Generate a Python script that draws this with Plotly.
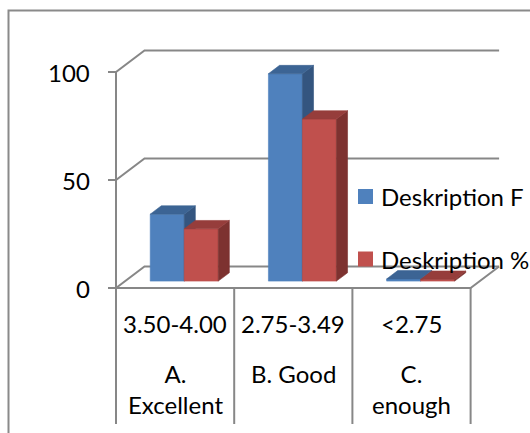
import plotly.graph_objects as go

# ---- data -------------------------------------------------------------
range_labels = ["3.50-4.00", "2.75-3.49", "<2.75"]
grade_labels = ["A.<br>Excellent", "B. Good", "C.<br>enough"]
series_names = ["Deskription F", "Deskription %"]
values_f = [31, 96, 1]
values_pct = [24.2, 75.0, 0.8]
y_ticks = [0, 50, 100]

# ---- geometry (pixels of the 530 x 433 page) ---------------------------
W, H = 530, 433
X0_PX, CAT_PX = 116, 118.2          # left end of category axis, width of one category
Y0_PX, UNIT_PX = 288, 2.16          # pixel row of value 0, pixels per value unit
WALL_DX_PX, WALL_DY_PX = 28.5, 21.5  # oblique depth of the back wall

x_range = [-X0_PX / CAT_PX, (W - X0_PX) / CAT_PX]
y_range = [-(H - Y0_PX) / UNIT_PX, Y0_PX / UNIT_PX]
WDX = WALL_DX_PX / CAT_PX
WDY = WALL_DY_PX / UNIT_PX


def px_x(p):
    return (p - X0_PX) / CAT_PX


def px_y(p):
    return (Y0_PX - p) / UNIT_PX


N = len(range_labels)
BAR_W = 34 / CAT_PX        # width of one column
Z_FRONT, Z_BACK = 0.32, 0.71  # depth of column front / back faces (0 = front, 1 = wall)

GRID = "#878787"
FONT = "Lato"
FS = 24

colors = {
    "Deskription F": dict(front="#4F81BD", top="#3C6494", side="#34557F"),
    "Deskription %": dict(front="#C0504D", top="#963D3B", side="#7D3230"),
}

fig = go.Figure()


def line(xs, ys, width=2, color=GRID):
    fig.add_trace(go.Scatter(x=xs, y=ys, mode="lines",
                             line=dict(color=color, width=width),
                             hoverinfo="skip", showlegend=False))


def face(xs, ys, color):
    fig.add_trace(go.Scatter(x=xs + [xs[0]], y=ys + [ys[0]], mode="lines",
                             fill="toself", fillcolor=color,
                             line=dict(color=color, width=0.6),
                             hoverinfo="skip", showlegend=False))


# walls: gridlines running from the front axis back to the wall
tick_len = 8 / CAT_PX
for v in y_ticks:
    line([-tick_len, 0, WDX, N + WDX], [v, v, v + WDY, v + WDY])
# value axis and category dividers
bottom_v = px_y(424)
line([0, 0], [y_ticks[-1], bottom_v])
for i in range(1, N + 1):
    line([i, i], [0, bottom_v])
# floor front edge and right edge
line([0, N, N + WDX], [0, 0, WDY])

# ---- 3-D columns ---------------------------------------------------------
ox0, oy0 = Z_FRONT * WDX, Z_FRONT * WDY
ox1, oy1 = Z_BACK * WDX, Z_BACK * WDY
for i in range(N):
    for k, (name, vals) in enumerate(zip(series_names, [values_f, values_pct])):
        v = vals[i]
        c = colors[name]
        xl = i + 0.5 - BAR_W + k * BAR_W
        xr = xl + BAR_W
        # front
        face([xl + ox0, xr + ox0, xr + ox0, xl + ox0],
             [oy0, oy0, v + oy0, v + oy0], c["front"])
        # side
        face([xr + ox0, xr + ox1, xr + ox1, xr + ox0],
             [oy0, oy1, v + oy1, v + oy0], c["side"])
        # top
        face([xl + ox0, xr + ox0, xr + ox1, xl + ox1],
             [v + oy0, v + oy0, v + oy1, v + oy1], c["top"])

annotations = []
# value tick labels
for v in y_ticks:
    annotations.append(dict(x=px_x(92), y=v, xref="x", yref="y", text=str(v),
                            xanchor="right", yanchor="middle", showarrow=False,
                            font=dict(family=FONT, size=FS, color="#000000")))
# category labels (two rows)
for i in range(N):
    annotations.append(dict(x=i + 0.5, y=px_y(323), xref="x", yref="y",
                            text=range_labels[i], xanchor="center", yanchor="middle",
                            showarrow=False,
                            font=dict(family=FONT, size=FS, color="#000000")))
    annotations.append(dict(x=i + 0.5, y=px_y(357), xref="x", yref="y",
                            text=grade_labels[i], xanchor="center", yanchor="top",
                            showarrow=False,
                            font=dict(family=FONT, size=FS, color="#000000")))

# legend
shapes = []
for name, cy in zip(series_names, [196.5, 259]):
    shapes.append(dict(type="rect", xref="x", yref="y",
                       x0=px_x(358), x1=px_x(373), y0=px_y(cy - 7.5), y1=px_y(cy + 7.5),
                       fillcolor=colors[name]["front"], line=dict(width=0)))
    annotations.append(dict(x=px_x(379), y=px_y(cy), xref="x", yref="y", text=name,
                            xanchor="left", yanchor="middle", showarrow=False,
                            font=dict(family=FONT, size=FS, color="#000000")))

# chart frame
shapes.append(dict(type="rect", xref="x", yref="y",
                   x0=px_x(8.5), x1=px_x(W + 20), y0=px_y(10.5), y1=px_y(H + 20),
                   line=dict(color="#8A8A8A", width=2), fillcolor="rgba(0,0,0,0)"))

fig.update_layout(
    width=W, height=H,
    margin=dict(l=0, r=0, t=0, b=0),
    paper_bgcolor="white", plot_bgcolor="white",
    xaxis=dict(range=x_range, visible=False, fixedrange=True),
    yaxis=dict(range=y_range, visible=False, fixedrange=True),
    showlegend=False,
    annotations=annotations,
    shapes=shapes,
)

fig.write_html("out.html")
